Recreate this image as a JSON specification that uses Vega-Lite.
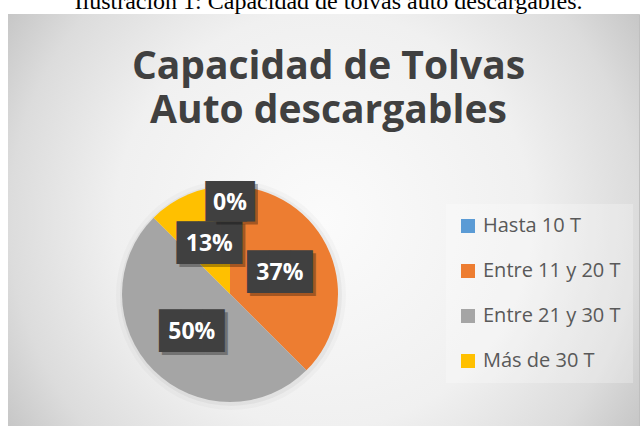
{
  "$schema": "https://vega.github.io/schema/vega-lite/v6.json",
  "width": 631,
  "height": 412,
  "autosize": {"type": "none"},
  "padding": {"left": 8, "top": 14, "right": 3, "bottom": 0},
  "background": "white",
  "config": {"view": {"stroke": "#bfbfbf", "strokeWidth": 1}},
  "title": {
    "text": "Ilustración 1: Capacidad de tolvas auto descargables.",
    "subtitle": ["Capacidad de Tolvas", "Auto descargables"],
    "font": "Liberation Serif",
    "fontSize": 24,
    "fontWeight": "normal",
    "color": "#000000",
    "subtitleFont": "Open Sans",
    "subtitleFontSize": 39,
    "subtitleFontWeight": "bold",
    "subtitleColor": "#404040",
    "subtitleLineHeight": 44,
    "subtitlePadding": 34,
    "anchor": "middle",
    "frame": "group",
    "orient": "top",
    "offset": -117,
    "dx": 5
  },
  "datasets": {
    "d": [
      {"rango": "Hasta 10 T", "valor": 0, "etiqueta": "0%", "i": 1},
      {"rango": "Entre 11 y 20 T", "valor": 37.5, "etiqueta": "37%", "i": 2},
      {"rango": "Entre 21 y 30 T", "valor": 50, "etiqueta": "50%", "i": 3},
      {"rango": "Más de 30 T", "valor": 12.5, "etiqueta": "13%", "i": 4}
    ]
  },
  "layer": [
    {
      "data": {"values": [{}]},
      "mark": {
        "type": "rect",
        "fill": {
          "gradient": "radial",
          "x1": 0.5, "y1": 0.5, "r1": 0,
          "x2": 0.5, "y2": 0.5, "r2": 0.6,
          "stops": [
            {"offset": 0, "color": "#fbfbfb"},
            {"offset": 0.55, "color": "#f0f0f0"},
            {"offset": 0.83, "color": "#dcdcdc"},
            {"offset": 1, "color": "#c6c6c6"}
          ]
        }
      },
      "encoding": {}
    },
    {
      "data": {"values": [{}]},
      "mark": {"type": "arc", "outerRadius": 115, "color": "#000000", "opacity": 0.025},
      "encoding": {"x": {"value": 223}, "y": {"value": 281}}
    },
    {
      "data": {"values": [{}]},
      "mark": {"type": "arc", "outerRadius": 111, "color": "#000000", "opacity": 0.04},
      "encoding": {"x": {"value": 223}, "y": {"value": 281}}
    },
    {
      "data": {"name": "d"},
      "mark": {"type": "arc", "outerRadius": 108},
      "encoding": {
        "x": {"value": 222},
        "y": {"value": 280},
        "theta": {"field": "valor", "type": "quantitative", "stack": true},
        "order": {"field": "i", "type": "quantitative"},
        "color": {
          "field": "rango",
          "type": "nominal",
          "scale": {
            "domain": ["Hasta 10 T", "Entre 11 y 20 T", "Entre 21 y 30 T", "Más de 30 T"],
            "range": ["#5B9BD5", "#ED7D31", "#A5A5A5", "#FFC000"]
          },
          "legend": {
            "title": null,
            "orient": "none",
            "legendX": 438,
            "legendY": 190,
            "padding": 12,
            "fillColor": "rgba(255,255,255,0.25)",
            "labelFont": "Open Sans",
            "labelFontSize": 20,
            "labelColor": "#595959",
            "labelOffset": 5,
            "symbolType": "square",
            "symbolSize": 196,
            "symbolStrokeWidth": 0,
            "rowPadding": 25
          }
        }
      }
    },
    {
      "data": {"name": "d"},
      "transform": [{"filter": "datum.valor > 0"}],
      "mark": {"type": "text", "font": "DejaVu Sans Mono", "fontSize": 36, "align": "center", "baseline": "middle", "color": "#000000", "opacity": 0.3, "dx": 3, "dy": 3},
      "encoding": {
        "x": {"value": 222},
        "y": {"value": 280},
        "theta": {"field": "valor", "type": "quantitative", "stack": true},
        "order": {"field": "i", "type": "quantitative"},
        "radius": {"value": 54},
        "text": {"value": "███"}
      }
    },
    {
      "data": {"name": "d"},
      "transform": [{"filter": "datum.valor > 0"}],
      "mark": {"type": "text", "font": "DejaVu Sans Mono", "fontSize": 36, "align": "center", "baseline": "middle", "color": "#404040"},
      "encoding": {
        "x": {"value": 222},
        "y": {"value": 280},
        "theta": {"field": "valor", "type": "quantitative", "stack": true},
        "order": {"field": "i", "type": "quantitative"},
        "radius": {"value": 54},
        "text": {"value": "███"}
      }
    },
    {
      "data": {"name": "d"},
      "transform": [{"filter": "datum.valor > 0"}],
      "mark": {"type": "text", "font": "Open Sans", "fontSize": 23, "fontWeight": "bold", "align": "center", "baseline": "middle", "color": "#ffffff"},
      "encoding": {
        "x": {"value": 222},
        "y": {"value": 280},
        "theta": {"field": "valor", "type": "quantitative", "stack": true},
        "order": {"field": "i", "type": "quantitative"},
        "radius": {"value": 54},
        "text": {"field": "etiqueta"}
      }
    },
    {
      "data": {"name": "d"},
      "transform": [{"filter": "datum.valor == 0"}],
      "mark": {"type": "text", "font": "DejaVu Sans Mono", "fontSize": 34, "align": "center", "baseline": "middle", "color": "#000000", "opacity": 0.3, "dx": 7, "dy": 3},
      "encoding": {
        "x": {"value": 222},
        "y": {"value": 280},
        "theta": {"field": "valor", "type": "quantitative", "stack": true},
        "order": {"field": "i", "type": "quantitative"},
        "radius": {"value": 91},
        "text": {"value": "██"}
      }
    },
    {
      "data": {"name": "d"},
      "transform": [{"filter": "datum.valor == 0"}],
      "mark": {"type": "text", "font": "DejaVu Sans Mono", "fontSize": 34, "align": "center", "baseline": "middle", "color": "#404040", "dx": -4},
      "encoding": {
        "x": {"value": 222},
        "y": {"value": 280},
        "theta": {"field": "valor", "type": "quantitative", "stack": true},
        "order": {"field": "i", "type": "quantitative"},
        "radius": {"value": 91},
        "text": {"value": "██"}
      }
    },
    {
      "data": {"name": "d"},
      "transform": [{"filter": "datum.valor == 0"}],
      "mark": {"type": "text", "font": "DejaVu Sans Mono", "fontSize": 34, "align": "center", "baseline": "middle", "color": "#404040", "dx": 4},
      "encoding": {
        "x": {"value": 222},
        "y": {"value": 280},
        "theta": {"field": "valor", "type": "quantitative", "stack": true},
        "order": {"field": "i", "type": "quantitative"},
        "radius": {"value": 91},
        "text": {"value": "██"}
      }
    },
    {
      "data": {"name": "d"},
      "transform": [{"filter": "datum.valor == 0"}],
      "mark": {"type": "text", "font": "Open Sans", "fontSize": 23, "fontWeight": "bold", "align": "center", "baseline": "middle", "color": "#ffffff"},
      "encoding": {
        "x": {"value": 222},
        "y": {"value": 280},
        "theta": {"field": "valor", "type": "quantitative", "stack": true},
        "order": {"field": "i", "type": "quantitative"},
        "radius": {"value": 91},
        "text": {"field": "etiqueta"}
      }
    }
  ]
}
